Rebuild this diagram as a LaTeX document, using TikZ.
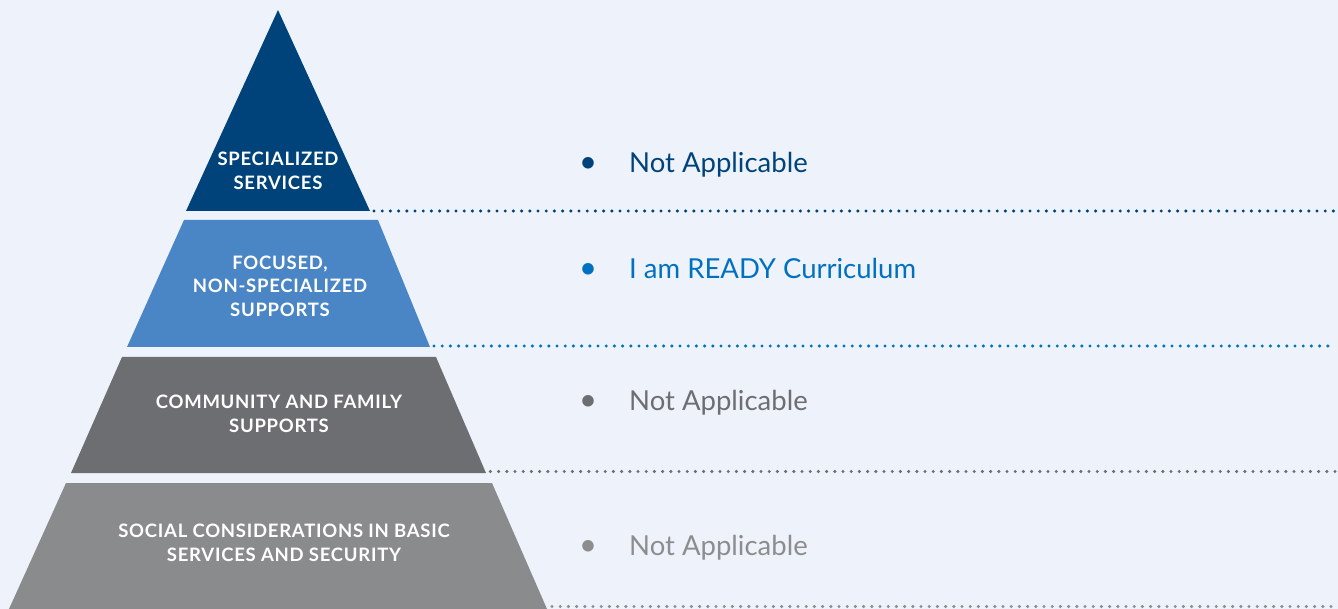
\documentclass[tikz,border=0pt]{standalone}
\usepackage{fontspec}
\setmainfont{Lato}
\definecolor{bg}{RGB}{238,243,251}
\definecolor{navy}{RGB}{0,67,123}
\definecolor{midblue}{RGB}{74,134,198}
\definecolor{textblue}{RGB}{0,112,192}
\definecolor{darkgray}{RGB}{109,110,114}
\definecolor{lightgray}{RGB}{138,139,141}
\definecolor{textgray}{RGB}{140,141,143}
\tikzset{
  tierlabel/.style={text=white, font=\fontsize{18.5}{23.7}\selectfont\bfseries\addfontfeatures{LetterSpace=4}, align=center, inner sep=0pt},
  itemtext/.style={font=\fontsize{27.5}{30}\selectfont, anchor=base west, inner sep=0pt},
  bulletmark/.style={font=\fontsize{31}{30}\selectfont, anchor=base, inner sep=0pt},
  dotline/.style={line width=3.4pt, line cap=round, dash pattern=on 0pt off 8.2pt}
}
\begin{document}
\begin{tikzpicture}[x=1pt,y=-1pt]
\fill[bg] (0,0) rectangle (1338,609);
\useasboundingbox (0,0) rectangle (1338,609);
% tier corners
\coordinate (a1) at (278,10);
\coordinate (b1l) at (186,211);
\coordinate (b1r) at (370,211);
\coordinate (a2l) at (184,220);
\coordinate (a2r) at (378,220);
\coordinate (b2l) at (127,347);
\coordinate (b2r) at (430,347);
\coordinate (a3l) at (122,357);
\coordinate (a3r) at (436,357);
\coordinate (b3l) at (71,473);
\coordinate (b3r) at (486,473);
\coordinate (a4l) at (66,483);
\coordinate (a4r) at (492,483);
\coordinate (b4l) at (9,609);
\coordinate (b4r) at (547,609);
% tiers
\fill[navy] (a1) -- (b1r) -- (b1l) -- cycle;
\fill[midblue] (a2l) -- (a2r) -- (b2r) -- (b2l) -- cycle;
\fill[darkgray] (a3l) -- (a3r) -- (b3r) -- (b3l) -- cycle;
\fill[lightgray] (a4l) -- (a4r) -- (b4r) -- (b4l) -- cycle;
% labels
\node[tierlabel] (l1) at (278,171) {SPECIALIZED\\SERVICES};
\node[tierlabel] (l2) at (280,286.3) {FOCUSED,\\NON-SPECIALIZED\\SUPPORTS};
\node[tierlabel] (l3) at (279,413.7) {COMMUNITY AND FAMILY\\SUPPORTS};
\node[tierlabel] (l4) at (284,542.7) {SOCIAL CONSIDERATIONS IN BASIC\\SERVICES AND SECURITY};
% dotted lines
\coordinate (e1s) at (374,211);
\coordinate (e1e) at (1338,211);
\coordinate (e2s) at (434,346);
\coordinate (e2e) at (1335,346);
\coordinate (e3s) at (474,471.5);
\coordinate (e3e) at (1335,471.5);
\coordinate (e4s) at (552,606.5);
\coordinate (e4e) at (1338,606.5);
\draw[dotline, navy] (e1s) -- (e1e);
\draw[dotline, textblue] (e2s) -- (e2e);
\draw[dotline, darkgray] (e3s) -- (e3e);
\draw[dotline, textgray] (e4s) -- (e4e);
% items
\node[bulletmark, text=navy] (m1) at (588,172.5) {•};
\node[itemtext, text=navy] (t1) at (629,172.5) {Not Applicable};
\node[bulletmark, text=textblue] (m2) at (588,279) {•};
\node[itemtext, text=textblue] (t2) at (629,279) {I am READY Curriculum};
\node[bulletmark, text=darkgray] (m3) at (588,410) {•};
\node[itemtext, text=darkgray] (t3) at (629,410) {Not Applicable};
\node[bulletmark, text=textgray] (m4) at (588,555) {•};
\node[itemtext, text=textgray] (t4) at (629,555) {Not Applicable};
\end{tikzpicture}
\end{document}
